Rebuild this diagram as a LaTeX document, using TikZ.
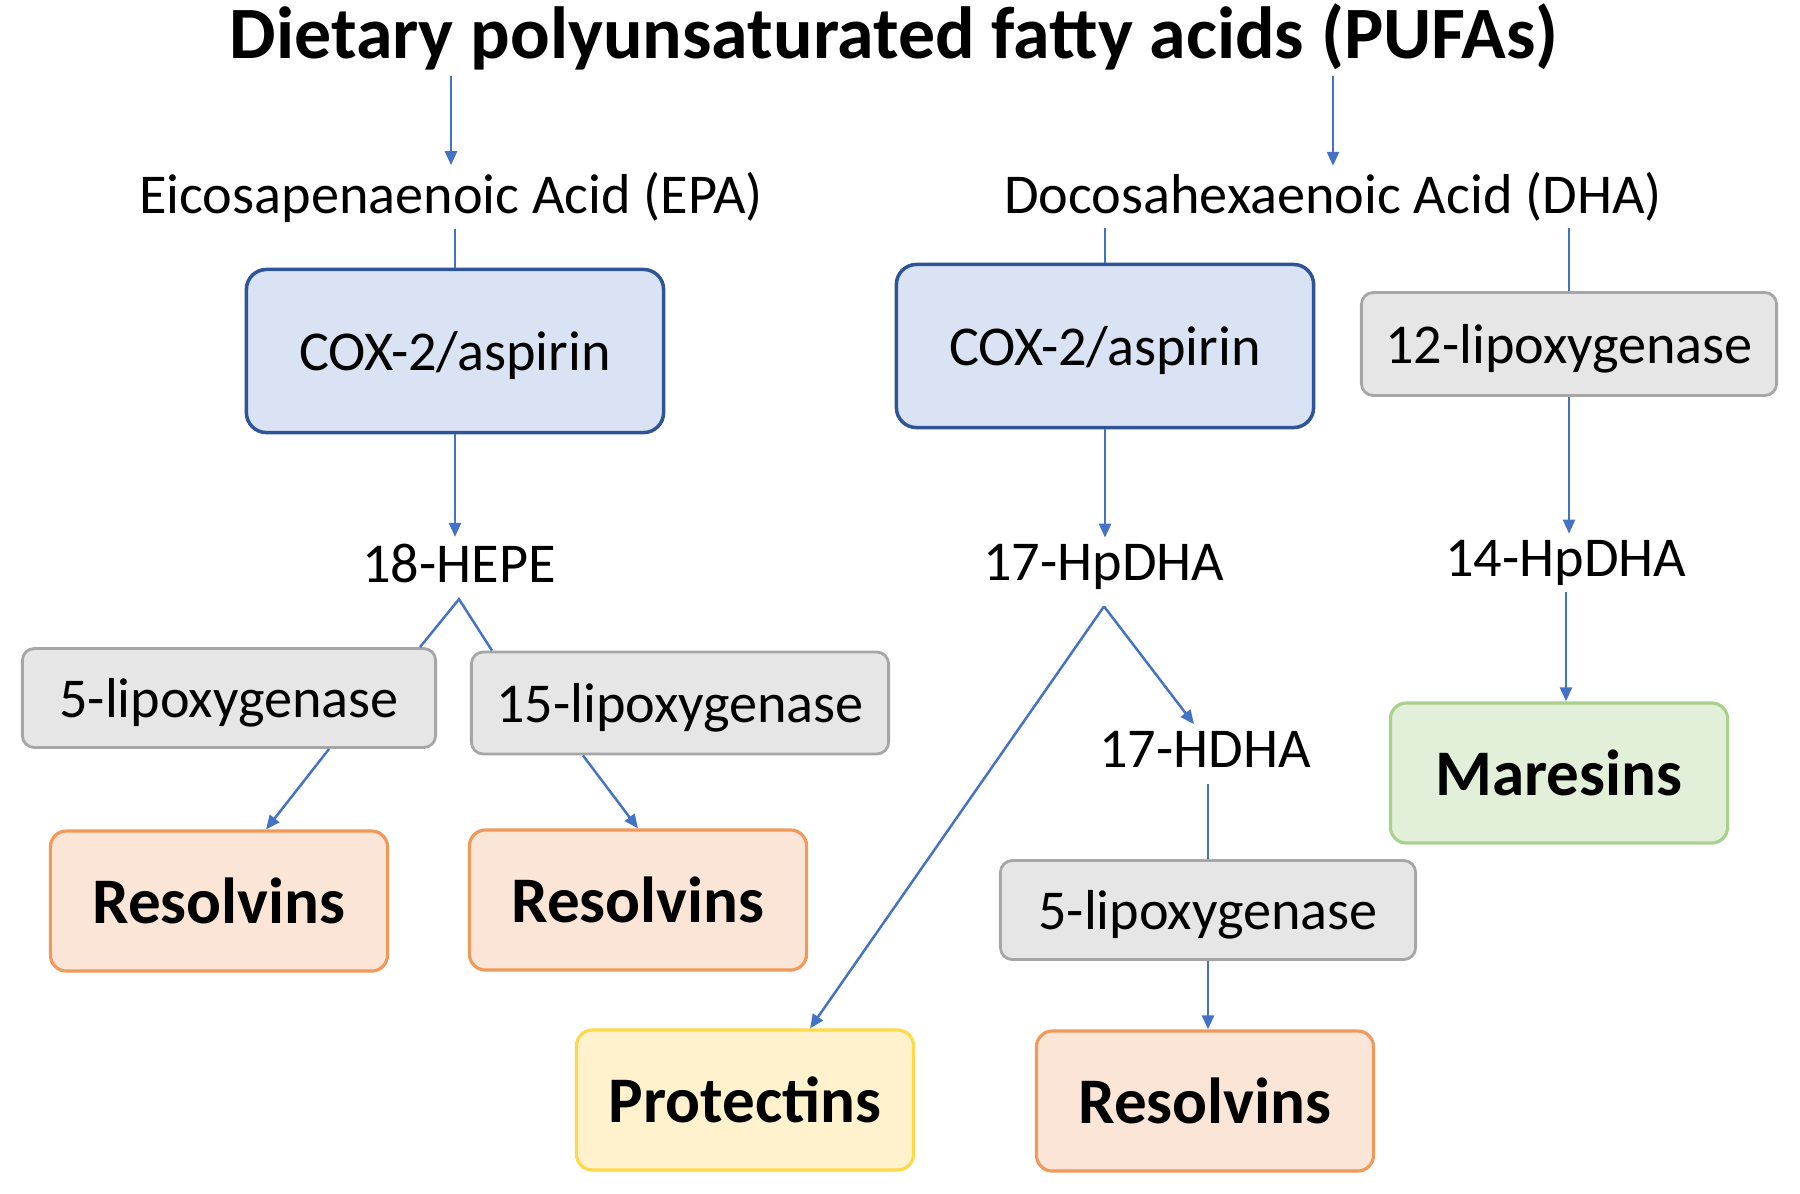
\documentclass[tikz,border=0pt]{standalone}
\usepackage{fontspec}
\setmainfont{Carlito}
\usetikzlibrary{arrows.meta, positioning}
\definecolor{coxfill}{HTML}{DAE3F3}
\definecolor{coxline}{HTML}{2F5597}
\definecolor{loxfill}{HTML}{E7E6E6}
\definecolor{loxline}{HTML}{A6A6A6}
\definecolor{resfill}{HTML}{FBE5D6}
\definecolor{resline}{HTML}{F0995A}
\definecolor{profill}{HTML}{FFF2CC}
\definecolor{proline}{HTML}{FFD94A}
\definecolor{marfill}{HTML}{E2F0D9}
\definecolor{marline}{HTML}{A9D18E}
\definecolor{flow}{HTML}{4472C4}

\begin{document}
\begin{tikzpicture}[x=0.01cm, y=-0.01cm,
  label/.style={inner sep=0.06cm, font=\fontsize{16}{19}\selectfont},
  enzyme/.style={draw=coxline, fill=coxfill, line width=1pt, rounded corners=0.2cm,
                 minimum width=4.17cm, minimum height=1.63cm, font=\fontsize{16}{19}\selectfont,
                 text height=14pt, text depth=2.8pt},
  lox/.style={draw=loxline, fill=loxfill, line width=0.8pt, rounded corners=0.12cm,
              minimum width=4.15cm, minimum height=0.99cm, font=\fontsize{16}{19}\selectfont,
              text height=14pt, text depth=2.8pt},
  product/.style={line width=0.9pt, rounded corners=0.16cm, minimum width=3.37cm,
                  minimum height=1.4cm, font=\fontsize{18.5}{22}\selectfont\bfseries},
  arrow/.style={-{Triangle[length=1.4mm, width=1.2mm]}, flow, line width=0.7pt},
  link/.style={flow, line width=0.7pt}]

  \path[use as bounding box, fill=white] (0,0) rectangle (1800,1193);

  % sources
  \node[font=\fontsize{21}{25}\selectfont\bfseries, inner sep=0.05cm] (title) at (894,37)
       {Dietary polyunsaturated fatty acids (PUFAs)};
  \node[label] (epa) at (451,197) {Eicosapenaenoic Acid (EPA)};
  \node[label] (dha) at (1333,197) {Docosahexaenoic Acid (DHA)};

  % enzymes and intermediates
  \node[enzyme] (cox1) at (455,351) {COX-2/aspirin};
  \node[enzyme] (cox2) at (1105,346) {COX-2/aspirin};
  \node[lox, minimum height=1.03cm] (lox12) at (1569,344) {12-lipoxygenase};
  \node[label] (hepe)    at (459,563)  {18-HEPE};
  \node[label] (hpdha17) at (1104,567) {17-HpDHA};
  \node[label] (hpdha14) at (1566,563) {14-HpDHA};
  \node[lox, minimum width=4.13cm] (lox5a) at (229,698) {5-lipoxygenase};
  \node[lox, minimum width=4.17cm, minimum height=1.02cm] (lox15) at (680,703) {15-lipoxygenase};
  \node[label] (hdha17) at (1205,749) {17-HDHA};
  \node[lox] (lox5b) at (1208,910) {5-lipoxygenase};

  % mediators
  \node[product, draw=resline, fill=resfill] (res1) at (219,901)  {Resolvins};
  \node[product, draw=resline, fill=resfill] (res2) at (638,900)  {Resolvins};
  \node[product, draw=proline, fill=profill] (prot) at (745,1100) {Protectins};
  \node[product, draw=resline, fill=resfill] (res3) at (1205,1101) {Resolvins};
  \node[product, draw=marline, fill=marfill] (mar)  at (1559,773) {Maresins};

  \draw[arrow] (title.south -| epa) -- (epa);
  \draw[arrow] (title.south -| dha) -- (dha);
  \draw[link]  (epa.south -| cox1) -- (cox1);
  \draw[link]  (dha.south -| cox2) -- (cox2);
  \draw[link]  (dha.south -| lox12) -- (lox12);
  \draw[arrow] (cox1) -- (cox1 |- hepe.north);
  \draw[arrow] (cox2) -- (cox2 |- hpdha17.north);
  \draw[arrow] (lox12) -- (lox12 |- hpdha14.north);

  \coordinate (hepetip) at ([yshift=-0.1cm]hepe.south);
  \draw[link]  ([xshift=-0.17cm]lox5a.north east) -- (hepetip) -- ([xshift=0.22cm]lox15.north west);
  \draw[arrow] ([xshift=1cm]lox5a.south) -- ([xshift=0.47cm]res1.north);
  \draw[arrow] ([xshift=-0.97cm]lox15.south) -- (res2.north);

  \coordinate (hpdhatip) at ([yshift=-0.1cm]hpdha17.south);
  \draw[arrow] (hpdhatip) -- ([xshift=0.65cm]prot.north);
  \draw[arrow] (hpdhatip) -- ([xshift=-0.11cm]hdha17.north);
  \draw[link]  ([yshift=-0.1cm]lox5b |- hdha17.south) -- (lox5b);
  \draw[arrow] (lox5b) -- (lox5b |- res3.north);
  \draw[arrow] (hpdha14) -- (hpdha14 |- mar.north);
\end{tikzpicture}
\end{document}
